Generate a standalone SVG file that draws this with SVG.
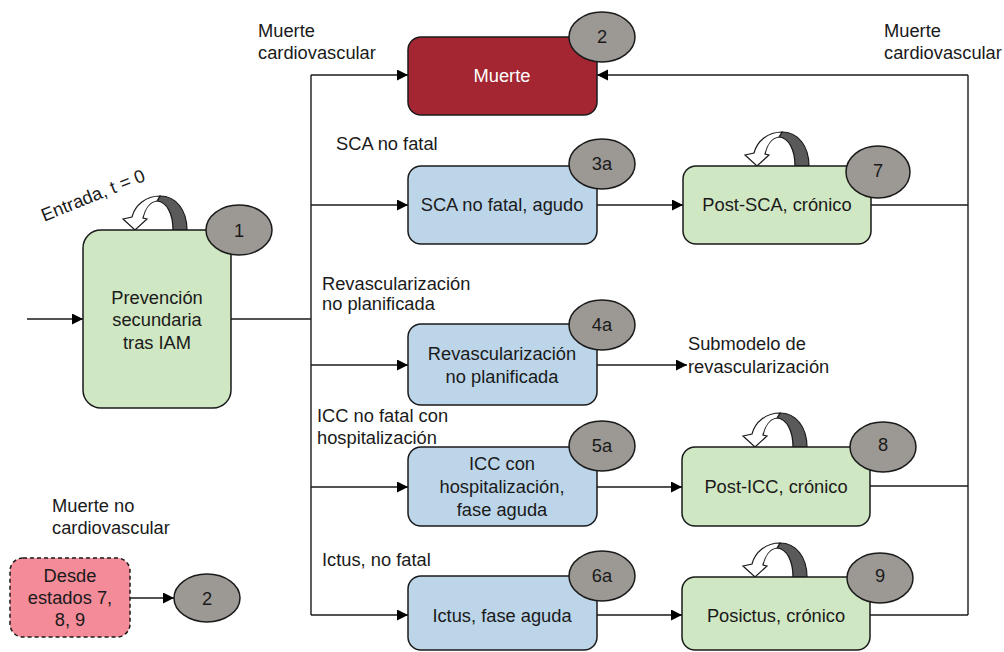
<svg xmlns="http://www.w3.org/2000/svg" width="1004" height="652" viewBox="0 0 1004 652">
<style>
text{font-family:"Liberation Sans",Arial,sans-serif;font-size:18.3px;fill:#1a1a1a}
.c{text-anchor:middle;dominant-baseline:central}
.l{dominant-baseline:central}
.box{stroke:#1a1a1a;stroke-width:1.5}
.green{fill:#d0e7c3}
.blue{fill:#bcd5e9}
.red{fill:#a42632}
.num{fill:#9c9995;stroke:#1a1a1a;stroke-width:1.5}
.ln{fill:none;stroke:#1a1a1a;stroke-width:1.4}
.arr{marker-end:url(#ah)}
</style>
<defs>
<marker id="ah" markerUnits="userSpaceOnUse" markerWidth="12" markerHeight="12" refX="11" refY="5.5" orient="auto">
<path d="M0,0 L11,5.5 L0,11 Z" fill="#000"/>
</marker>
<g id="loop">
<path d="M 52 0 C 52 -20 41 -34 25 -34 L 22 -29 C 32 -28 38 -16 38 0 Z" fill="#5a5a5a" stroke="#1a1a1a" stroke-width="1.2"/>
<path d="M 25 -34 C 11 -34 0 -25 -3 -13 L -12 -11 L 0 0 L 12 -11 L 8 -12 C 10 -21 15 -28 22 -29 Z" fill="#fff" stroke="#1a1a1a" stroke-width="1.2"/>
</g>
</defs>
<rect width="1004" height="652" fill="#fff"/>
<g id="connectors">
<line class="ln arr" x1="27" y1="319" x2="83" y2="319"/>
<polyline class="ln" points="231,319 311,319"/>
<line class="ln" x1="311" y1="75" x2="311" y2="615"/>
<line class="ln arr" x1="311" y1="75" x2="408" y2="75"/>
<line class="ln arr" x1="311" y1="205" x2="408" y2="205"/>
<line class="ln arr" x1="311" y1="365" x2="408" y2="365"/>
<line class="ln arr" x1="311" y1="487" x2="408" y2="487"/>
<line class="ln arr" x1="311" y1="615" x2="408" y2="615"/>
<line class="ln arr" x1="597" y1="205" x2="683" y2="205"/>
<line class="ln arr" x1="597" y1="487" x2="682" y2="487"/>
<line class="ln arr" x1="597" y1="615" x2="682" y2="615"/>
<line class="ln arr" x1="597" y1="365" x2="687" y2="365"/>
<line class="ln" x1="871" y1="205" x2="968" y2="205"/>
<line class="ln" x1="870" y1="486" x2="968" y2="486"/>
<line class="ln" x1="870" y1="615" x2="968" y2="615"/>
<line class="ln" x1="968" y1="75" x2="968" y2="615"/>
<line class="ln arr" x1="968" y1="75" x2="597" y2="75"/>
<line class="ln arr" x1="130" y1="598" x2="174" y2="598"/>
</g>
<g id="labels">
<text class="l" x="258" y="30">Muerte</text>
<text class="l" x="258" y="52">cardiovascular</text>
<text class="l" x="884" y="30">Muerte</text>
<text class="l" x="884" y="52">cardiovascular</text>
<text class="l" x="336" y="143">SCA no fatal</text>
<text class="l" x="322" y="283">Revascularización</text>
<text class="l" x="322" y="303">no planificada</text>
<text class="l" x="317" y="415">ICC no fatal con</text>
<text class="l" x="317" y="437">hospitalización</text>
<text class="l" x="322" y="559">Ictus, no fatal</text>
<text class="l" x="52" y="505">Muerte no</text>
<text class="l" x="52" y="527">cardiovascular</text>
<text class="l" x="688" y="343">Submodelo de</text>
<text class="l" x="688" y="366">revascularización</text>
<text class="c" transform="translate(93,195) rotate(-22)">Entrada, t = 0</text>
</g>
<g id="node1">
<use href="#loop" x="135" y="230"/>
<rect class="box green" x="83" y="230" width="148" height="178" rx="18"/>
<text class="c" x="157" y="297">Prevención</text>
<text class="c" x="157" y="319">secundaria</text>
<text class="c" x="157" y="342">tras IAM</text>
<ellipse class="num" cx="239" cy="230" rx="33" ry="25"/>
<text class="c" x="239" y="230">1</text>
</g>
<g id="node2">
<rect class="box red" x="408" y="37" width="189" height="78" rx="13"/>
<text class="c" x="502" y="75" style="fill:#fff">Muerte</text>
<ellipse class="num" cx="602" cy="37" rx="33" ry="25"/>
<text class="c" x="602" y="36">2</text>
</g>
<g id="node3a">
<rect class="box blue" x="408" y="166" width="189" height="78" rx="13"/>
<text class="c" x="502" y="204">SCA no fatal, agudo</text>
<ellipse class="num" cx="602" cy="164" rx="33" ry="25"/>
<text class="c" x="602" y="163">3a</text>
</g>
<g id="node4a">
<rect class="box blue" x="408" y="324" width="189" height="81" rx="13"/>
<text class="c" x="502" y="353">Revascularización</text>
<text class="c" x="502" y="376">no planificada</text>
<ellipse class="num" cx="602" cy="325" rx="33" ry="25"/>
<text class="c" x="602" y="324">4a</text>
</g>
<g id="node5a">
<rect class="box blue" x="408" y="447" width="189" height="79" rx="13"/>
<text class="c" x="502" y="463">ICC con</text>
<text class="c" x="502" y="486">hospitalización,</text>
<text class="c" x="502" y="509">fase aguda</text>
<ellipse class="num" cx="602" cy="446" rx="33" ry="25"/>
<text class="c" x="602" y="445">5a</text>
</g>
<g id="node6a">
<rect class="box blue" x="408" y="576" width="189" height="74" rx="13"/>
<text class="c" x="502" y="615">Ictus, fase aguda</text>
<ellipse class="num" cx="602" cy="576" rx="33" ry="25"/>
<text class="c" x="602" y="575">6a</text>
</g>
<g id="node7">
<use href="#loop" x="757" y="166"/>
<rect class="box green" x="683" y="166" width="188" height="78" rx="13"/>
<text class="c" x="777" y="204">Post-SCA, crónico</text>
<ellipse class="num" cx="878" cy="172" rx="32" ry="26"/>
<text class="c" x="878" y="170">7</text>
</g>
<g id="node8">
<use href="#loop" x="755" y="447"/>
<rect class="box green" x="682" y="447" width="188" height="79" rx="13"/>
<text class="c" x="776" y="486">Post-ICC, crónico</text>
<ellipse class="num" cx="883" cy="447" rx="33" ry="25"/>
<text class="c" x="883" y="444">8</text>
</g>
<g id="node9">
<use href="#loop" x="755" y="577"/>
<rect class="box green" x="682" y="577" width="188" height="73" rx="13"/>
<text class="c" x="776" y="615">Posictus, crónico</text>
<ellipse class="num" cx="880" cy="578" rx="33" ry="25"/>
<text class="c" x="880" y="575">9</text>
</g>
<g id="nodeDesde">
<rect x="10" y="558" width="120" height="79" rx="13" fill="#f48b99" stroke="#1a1a1a" stroke-width="1.5" stroke-dasharray="4,3"/>
<text class="c" x="70" y="575">Desde</text>
<text class="c" x="70" y="597">estados 7,</text>
<text class="c" x="70" y="619">8, 9</text>
</g>
<g id="node2b">
<ellipse class="num" cx="207" cy="598" rx="33" ry="24"/>
<text class="c" x="207" y="598">2</text>
</g>
</svg>
